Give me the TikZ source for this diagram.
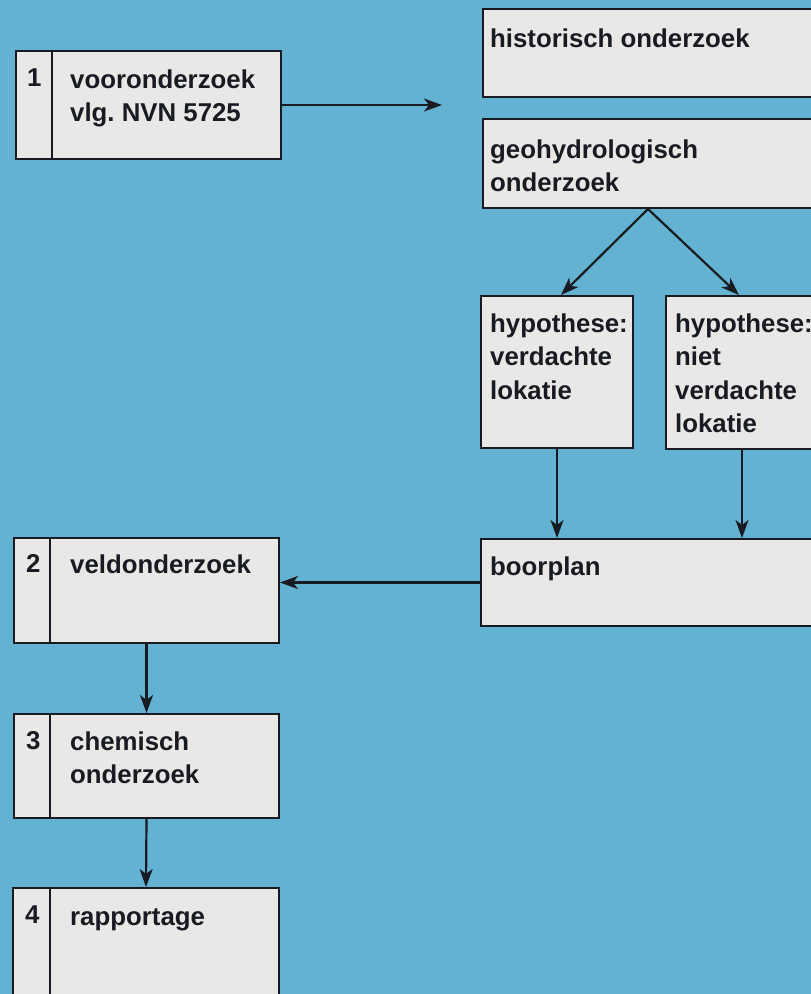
\documentclass[tikz,border=0pt]{standalone}
\usepackage{fontspec}
\setmainfont{Liberation Sans}
\usetikzlibrary{arrows.meta}

\definecolor{bgblue}{RGB}{100,178,210}
\definecolor{boxgrey}{RGB}{233,232,230}
\definecolor{inkdark}{RGB}{24,28,34}

\tikzset{
	box/.style={draw=inkdark, fill=boxgrey, line width=2pt, anchor=north west, inner sep=0pt},
	lbl/.style={anchor=base west, align=left, inner sep=0pt, text=inkdark, font=\bfseries\fontsize{25.8}{33.5}\selectfont},
	pijl/.style={draw=inkdark, line width=2.2pt, -{Stealth[length=18pt,width=13pt,inset=5pt]}},
	deler/.style={draw=inkdark, line width=2pt}
}

\begin{document}
\begin{tikzpicture}[x=1pt,y=-1pt]
	\useasboundingbox (0,0) rectangle (811,994);
	\fill[bgblue] (0,0) rectangle (811,994);
	\clip (0,0) rectangle (811,994);

	%left column
	\node[box, minimum width=265pt, minimum height=108pt] (vor)  at (15,50)  {};
	\node[box, minimum width=265pt, minimum height=105pt] (veld) at (13,537) {};
	\node[box, minimum width=265pt, minimum height=104pt] (chem) at (13,713) {};
	\node[box, minimum width=266pt, minimum height=130pt] (rapp) at (12,887) {};

	%right column (runs off the page)
	\node[box, minimum width=348pt, minimum height=88pt]  (hist) at (482,8)   {};
	\node[box, minimum width=348pt, minimum height=89pt]  (geo)  at (482,118) {};
	\node[box, minimum width=152pt, minimum height=152pt] (hypv) at (480,295) {};
	\node[box, minimum width=152pt, minimum height=153pt] (hypn) at (665,295) {};
	\node[box, minimum width=350pt, minimum height=87pt]  (boor) at (480,538) {};

	%number columns
	\draw[deler] ([xshift=37pt]vor.north west)  -- ([xshift=37pt]vor.south west);
	\draw[deler] ([xshift=37pt]veld.north west) -- ([xshift=37pt]veld.south west);
	\draw[deler] ([xshift=37pt]chem.north west) -- ([xshift=37pt]chem.south west);
	\draw[deler] ([xshift=38pt]rapp.north west) -- ([xshift=38pt]rapp.south west);

	%texts (multi-line ones sit on their last baseline)
	\node[lbl] (n-vor)  at (27,86)    {1};
	\node[lbl] (t-vor)  at (70,121.5) {vooronderzoek\\vlg.\ NVN 5725};
	\node[lbl] (n-veld) at (26,572)   {2};
	\node[lbl] (t-veld) at (70,573)   {veldonderzoek};
	\node[lbl] (n-chem) at (26,749)   {3};
	\node[lbl] (t-chem) at (70,783.5) {chemisch\\onderzoek};
	\node[lbl] (n-rapp) at (25,923)   {4};
	\node[lbl] (t-rapp) at (70,925)   {rapportage};
	\node[lbl] (t-hist) at (490,47)   {historisch onderzoek};
	\node[lbl] (t-geo)  at (490,191.5) {geohydrologisch\\onderzoek};
	\node[lbl] (t-hypv) at (490,399)  {hypothese:\\verdachte\\lokatie};
	\node[lbl] (t-hypn) at (675,432.5) {hypothese:\\niet\\verdachte\\lokatie};
	\node[lbl] (t-boor) at (490,575)  {boorplan};

	%arrows
	\coordinate (pijlpunt) at (442,105);
	\draw[pijl] (vor.east) -- (pijlpunt);
	\draw[pijl] ([xshift=166pt]geo.south west) -- ([xshift=4pt]hypv.north);	%geo--hyp (left)
	\draw[pijl] ([xshift=166pt]geo.south west) -- ([xshift=-3pt]hypn.north);	%geo--hyp (right)
	\draw[pijl] (hypv.south) -- (hypv.south |- boor.north);
	\draw[pijl] (hypn.south) -- (hypn.south |- boor.north);
	\draw[pijl] (boor.west) -- (boor.west -| veld.east);
	\draw[pijl] (veld.south) -- (chem.north);
	\draw[pijl] (chem.south) -- (rapp.north);
\end{tikzpicture}
\end{document}
